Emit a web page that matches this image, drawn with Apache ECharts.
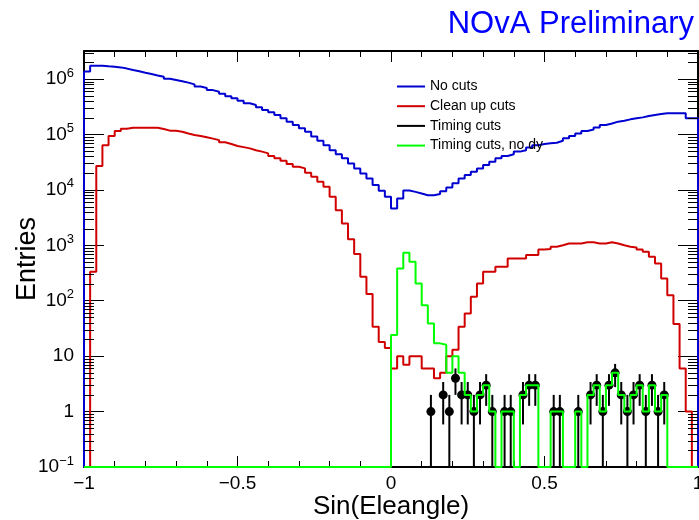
<!DOCTYPE html>
<html>
<head>
<meta charset="utf-8">
<script src="https://cdn.jsdelivr.net/npm/echarts@6/dist/echarts.min.js"></script>
<style>
html, body { margin: 0; padding: 0; background: #fff; }
#sinEleangleChart { width: 699px; height: 520px; }
</style>
</head>
<body>
<div id="sinEleangleChart"></div>
<script>
// 100 bins of Sin(Eleangle) from -1 to 1
var binLow = -1;
var binWidth = 0.02;

var noCuts = [
    1.36e6, 1.74e6, 1.74e6, 1.70e6, 1.67e6, 1.62e6, 1.54e6, 1.45e6, 1.38e6, 1.30e6,
    1.23e6, 1.16e6, 1.10e6, 1.01e6, 9.6e5, 9.1e5, 8.6e5, 8.0e5, 7.3e5, 6.9e5,
    6.3e5, 5.9e5, 5.4e5, 4.9e5, 4.5e5, 4.06e5, 3.64e5, 3.4e5, 3.08e5, 2.76e5,
    2.5e5, 2.24e5, 1.95e5, 1.7e5, 1.48e5, 1.29e5, 1.12e5, 9.2e4, 7.7e4, 6.4e4,
    5.2e4, 4.4e4, 3.7e4, 3.0e4, 2.44e4, 1.98e4, 1.61e4, 1.22e4, 9.6e3, 7.5e3,
    4.6e3, 7.0e3, 9.7e3, 9.2e3, 8.6e3, 8.0e3, 8.0e3, 8.4e3, 9.4e3, 1.1e4,
    1.31e4, 1.61e4, 1.85e4, 2.12e4, 2.44e4, 2.8e4, 3.2e4, 3.7e4, 4.07e4, 4.4e4,
    4.9e4, 5.2e4, 5.8e4, 6.4e4, 6.7e4, 6.9e4, 7.1e4, 7.7e4, 8.5e4, 9.4e4,
    1.04e5, 1.15e5, 1.23e5, 1.34e5, 1.48e5, 1.58e5, 1.70e5, 1.77e5, 1.87e5, 1.95e5,
    2.03e5, 2.15e5, 2.24e5, 2.33e5, 2.4e5, 2.4e5, 2.4e5, 2.4e5, 1.95e5, 1.95e5
];
var cleanUpCuts = [
    0, 333, 2.7e4, 6.4e4, 9.4e4, 1.15e5, 1.27e5, 1.32e5, 1.32e5, 1.32e5,
    1.32e5, 1.32e5, 1.25e5, 1.17e5, 1.17e5, 1.12e5, 1.04e5, 9.8e4, 9.4e4, 8.9e4,
    8.4e4, 7.9e4, 7.2e4, 6.7e4, 6.2e4, 5.9e4, 5.6e4, 5.2e4, 4.9e4, 4.55e4,
    4.07e4, 3.7e4, 3.36e4, 2.92e4, 2.62e4, 2.44e4, 2.04e4, 1.73e4, 1.40e4, 1.14e4,
    7.5e3, 4.3e3, 2.48e3, 1.28e3, 694, 270, 132, 34, 18, 14,
    6, 10, 7, 10, 10, 6, 6, 4, 5, 10,
    13, 34, 59, 118, 205, 333, 333, 410, 410, 580,
    580, 580, 665, 665, 840, 860, 942, 1000, 1080, 1080,
    1080, 1130, 1130, 1080, 1080, 1130, 1080, 1000, 942, 916,
    840, 764, 621, 471, 252, 126, 38, 6, 1, 0
];
var timingCuts = [
    0, 0, 0, 0, 0, 0, 0, 0, 0, 0,
    0, 0, 0, 0, 0, 0, 0, 0, 0, 0,
    0, 0, 0, 0, 0, 0, 0, 0, 0, 0,
    0, 0, 0, 0, 0, 0, 0, 0, 0, 0,
    0, 0, 0, 0, 0, 0, 0, 0, 0, 0,
    0, 0, 0, 0, 0, 0, 1, 0, 2, 1,
    4, 2, 2, 1, 2, 3, 1, 0, 1, 1,
    0, 2, 3, 3, 0, 0, 1, 1, 0, 0,
    1, 0, 2, 3, 1, 3, 5, 2, 1, 2,
    3, 1, 3, 1, 2, 0, 0, 0, 0, 0
];
var timingCutsNoDy = [
    0, 0, 0, 0, 0, 0, 0, 0, 0, 0,
    0, 0, 0, 0, 0, 0, 0, 0, 0, 0,
    0, 0, 0, 0, 0, 0, 0, 0, 0, 0,
    0, 0, 0, 0, 0, 0, 0, 0, 0, 0,
    0, 0, 0, 0, 0, 0, 0, 0, 0, 0,
    24, 382, 732, 505, 205, 83, 39, 17, 16, 5,
    10, 5, 2, 1, 2, 3, 1, 0, 1, 1,
    0, 2, 3, 3, 0, 0, 1, 1, 0, 0,
    1, 0, 2, 3, 1, 3, 5, 2, 1, 2,
    3, 1, 3, 1, 2, 0, 0, 0, 0, 0
];
var yMin = 0.1;
var yMax = 3.2e6;

var font = 'Liberation Sans';

// ROOT style outline: start and end at the frame bottom, empty bins sit on it
function histOutline(counts) {
    var pts = [[binLow, yMin]];
    counts.forEach(function (c, i) {
        pts.push([binLow + i * binWidth, c > 0 ? c : yMin]);
    });
    var last = counts[counts.length - 1];
    var hi = binLow + counts.length * binWidth;
    pts.push([hi, last > 0 ? last : yMin]);
    pts.push([hi, yMin]);
    return pts;
}

function markerPoints(counts) {
    var pts = [];
    counts.forEach(function (c, i) {
        if (c > 0) pts.push([binLow + (i + 0.5) * binWidth, c]);
    });
    return pts;
}

function logLabel(v) {
    var l = Math.log10(v);
    var e = Math.round(l);
    if (Math.abs(l - e) > 1e-6) return '';
    if (e === 0) return '1';
    if (e === 1) return '10';
    return '10{s|' + (e < 0 ? '\u2212' + (-e) : e) + '}';
}

var chart = echarts.init(document.getElementById('sinEleangleChart'));

var xAxisBase = {
    type: 'value',
    min: -1,
    max: 1,
    interval: 0.5,
    axisLine: { show: true, onZero: false, lineStyle: { color: '#000', width: 2 } },
    axisTick: { show: true, inside: true, length: 11, lineStyle: { color: '#000', width: 1 } },
    minorTick: { show: true, splitNumber: 5, length: 6, lineStyle: { color: '#000', width: 1 } },
    splitLine: { show: false }
};
var yAxisBase = {
    type: 'log',
    logBase: 10,
    min: yMin,
    max: yMax,
    interval: 1,
    axisLine: { show: true, onZero: false, lineStyle: { color: '#000', width: 2 } },
    axisTick: { show: true, inside: true, length: 20, lineStyle: { color: '#000', width: 1 } },
    splitLine: { show: false }
};

var option = {
    animation: false,
    backgroundColor: '#fff',
    title: {
        text: 'NOvA Preliminary',
        right: 0,
        top: 4,
        textStyle: { color: '#0000ff', fontSize: 31, fontWeight: 'normal', fontFamily: font }
    },
    legend: {
        orient: 'vertical',
        left: 397,
        top: 78.5,
        padding: 0,
        itemWidth: 28,
        itemHeight: 2,
        itemGap: 3.7,
        icon: 'rect',
        textStyle: { fontSize: 14, fontFamily: font, color: '#000', lineHeight: 16 },
        data: ['No cuts', 'Clean up cuts', 'Timing cuts', 'Timing cuts, no dy']
    },
    grid: { left: 84, right: 1, top: 51, bottom: 53, containLabel: false, outerBoundsMode: 'none' },
    xAxis: [
        Object.assign({}, xAxisBase, {
            position: 'bottom',
            name: 'Sin(Eleangle)',
            nameLocation: 'middle',
            nameGap: 27,
            nameMoveOverlap: false,
            nameTextStyle: { fontSize: 26, fontFamily: font, color: '#000' },
            axisLabel: {
                fontSize: 19, fontFamily: font, color: '#000', margin: 7,
                formatter: function (v) {
                    var s = String(Math.abs(v));
                    return v < 0 ? '\u2212' + s : s;
                }
            }
        }),
        Object.assign({}, xAxisBase, { position: 'top', axisLabel: { show: false } })
    ],
    yAxis: [
        Object.assign({}, yAxisBase, {
            position: 'left',
            name: 'Entries',
            nameLocation: 'middle',
            nameGap: 43,
            nameMoveOverlap: false,
            nameTextStyle: { fontSize: 27, fontFamily: font, color: '#000' },
            axisLabel: {
                fontSize: 19, fontFamily: font, color: '#000', margin: 10,
                showMaxLabel: false,
                formatter: logLabel,
                rich: { s: { fontSize: 13, fontFamily: font, color: '#000', padding: [0, 0, 12, 0] } }
            }
        }),
        Object.assign({}, yAxisBase, { position: 'right', axisLabel: { show: false } })
    ],
    series: [
        {
            name: 'No cuts',
            type: 'line',
            step: 'end',
            symbol: 'none',
            color: '#0000d0',
            lineStyle: { width: 2, color: '#0000d0' },
            data: histOutline(noCuts),
            z: 2
        },
        {
            name: 'Clean up cuts',
            type: 'line',
            step: 'end',
            symbol: 'none',
            color: '#d00000',
            lineStyle: { width: 2, color: '#d00000' },
            data: histOutline(cleanUpCuts),
            z: 3
        },
        {
            name: 'Timing cuts',
            type: 'custom',
            color: '#000',
            itemStyle: { color: '#000' },
            data: markerPoints(timingCuts),
            renderItem: function (params, api) {
                var n = api.value(1);
                var x = api.value(0);
                var err = Math.sqrt(n);
                var p = api.coord([x, n]);
                var top = api.coord([x, n + err]);
                var bot = api.coord([x, Math.max(n - err, yMin)]);
                return {
                    type: 'group',
                    children: [
                        { type: 'line', shape: { x1: p[0], y1: top[1], x2: p[0], y2: bot[1] }, style: { stroke: '#000', lineWidth: 2 } },
                        { type: 'circle', shape: { cx: p[0], cy: p[1], r: 4.5 }, style: { fill: '#000' } }
                    ]
                };
            },
            z: 4
        },
        {
            name: 'Timing cuts, no dy',
            type: 'line',
            step: 'end',
            symbol: 'none',
            color: '#00ff00',
            lineStyle: { width: 2, color: '#00ff00' },
            data: histOutline(timingCutsNoDy),
            z: 5
        }
    ]
};

chart.setOption(option);

// log minor ticks (2..9 x 10^n) on left and right frame
var minorTicks = [];
var xl = chart.convertToPixel({ xAxisIndex: 0 }, -1);
var xr = chart.convertToPixel({ xAxisIndex: 0 }, 1);
for (var e = -1; e <= 6; e++) {
    for (var k = 2; k <= 9; k++) {
        var v = k * Math.pow(10, e);
        if (v >= yMax) continue;
        var py = Math.round(chart.convertToPixel({ yAxisIndex: 0 }, v)) + 0.5;
        minorTicks.push({ type: 'line', shape: { x1: xl, y1: py, x2: xl + 10, y2: py }, style: { stroke: '#000', lineWidth: 1 }, z: 10 });
        minorTicks.push({ type: 'line', shape: { x1: xr - 10, y1: py, x2: xr, y2: py }, style: { stroke: '#000', lineWidth: 1 }, z: 10 });
    }
}
chart.setOption({ graphic: minorTicks });
</script>
</body>
</html>
